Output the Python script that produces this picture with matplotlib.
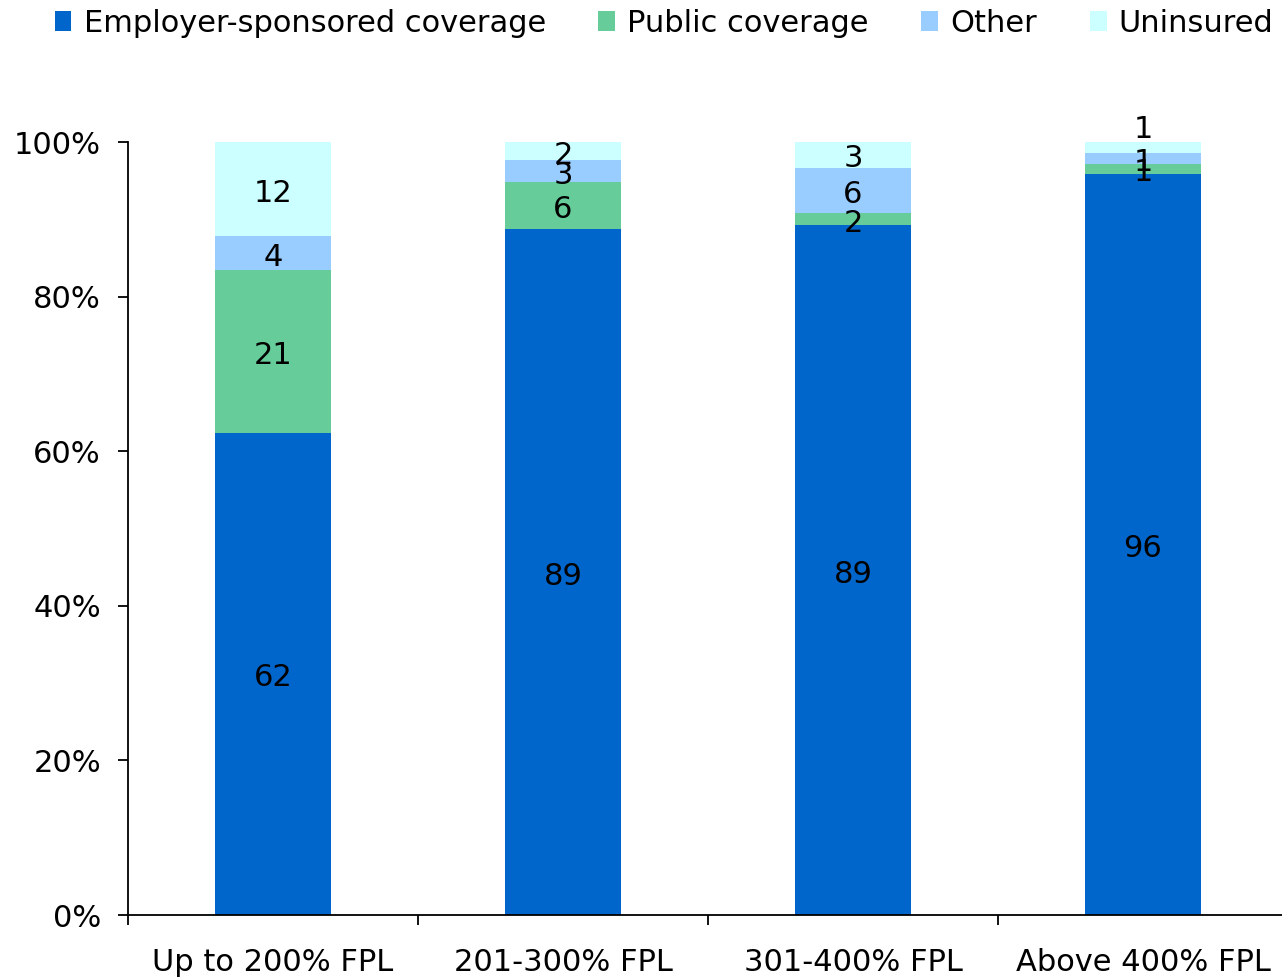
import numpy as np
import matplotlib
matplotlib.use('Agg')
import matplotlib.pyplot as plt
from matplotlib.patches import Patch
from matplotlib.transforms import offset_copy

# Datos (porcentaje de cada grupo)
categorias = ['Up to 200% FPL', '201-300% FPL', '301-400% FPL', 'Above 400% FPL']
employer = [62.4, 88.7, 89.3, 95.9]
public = [21.0, 6.1, 1.5, 1.3]
other = [4.4, 2.9, 5.9, 1.4]
uninsured = [12.2, 2.3, 3.3, 1.4]

series = ['Employer-sponsored coverage', 'Public coverage', 'Other', 'Uninsured']
colores = ['#0066CC', '#66CC99', '#99CCFF', '#CCFFFF']

plt.rcParams['font.family'] = ['DejaVu Sans']
fs = 22

fig = plt.figure(figsize=(12.82, 9.8), dpi=100)
ax = fig.add_axes([128 / 1282, 65 / 980, 1160 / 1282, 773 / 980])

# etiquetas un poco mas abajo, como en el original
trans_lbl = offset_copy(ax.transData, fig=fig, x=0, y=-3, units='points')

x = np.arange(len(categorias))
base = np.zeros(len(categorias))
for nombre, vals, col in zip(series, [employer, public, other, uninsured], colores):
    vals = np.array(vals)
    ax.bar(x, vals, 0.4, bottom=base, color=col, label=nombre)
    for i in range(len(x)):
        yc = base[i] + vals[i] / 2
        # el ultimo segmento muy fino se etiqueta por encima de la barra
        if nombre == 'Uninsured' and vals[i] < 1.5:
            yc = base[i] + vals[i] + 2.2
        ax.text(x[i], yc, f'{vals[i]:.0f}', ha='center', va='center',
                fontsize=fs, color='black', transform=trans_lbl)
    base += vals

# Ejes
ax.set_xlim(-0.5, 3.5)
ax.set_ylim(0, 100)
ax.set_yticks(np.arange(0, 101, 20))
ax.set_yticklabels([f'{v}%' for v in range(0, 101, 20)])
ax.set_xticks(x)
ax.set_xticklabels(categorias)
ax.set_xticks(np.arange(-0.5, 4, 1), minor=True)
ax.tick_params(axis='x', which='major', length=0, pad=24, labelsize=fs)
ax.tick_params(axis='x', which='minor', length=7.5, width=1.3, direction='out')
ax.tick_params(axis='y', length=7.5, width=1.3, pad=12, labelsize=fs)
for s in ['top', 'right']:
    ax.spines[s].set_visible(False)
for s in ['left', 'bottom']:
    ax.spines[s].set_linewidth(1.3)
ax.spines['bottom'].set_clip_on(False)

# Leyenda
handles = [Patch(facecolor=c, label=n) for n, c in zip(series, colores)]
fig.legend(handles=handles, loc='center', bbox_to_anchor=(0.518, 1 - 23 / 980),
           ncol=4, frameon=False, fontsize=fs, handlelength=0.55,
           handleheight=0.65, handletextpad=0.4, columnspacing=1.72,
           borderaxespad=0, borderpad=0)

fig.savefig('out.png', dpi=100)
